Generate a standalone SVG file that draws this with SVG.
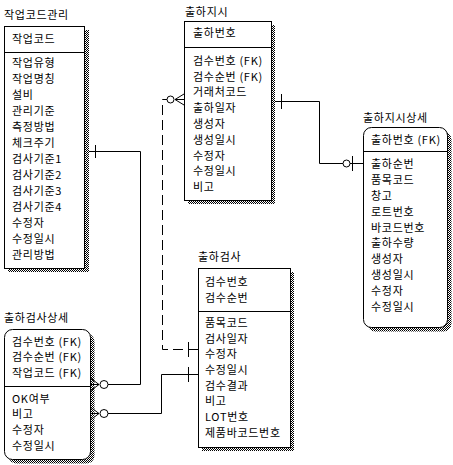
<svg xmlns="http://www.w3.org/2000/svg" width="453" height="465" viewBox="0 0 453 465">
<defs>
<pattern id="dith" width="2" height="2" patternUnits="userSpaceOnUse">
<rect width="2" height="2" fill="#fff"/>
<rect x="0" y="0" width="1" height="1" fill="#000"/>
<rect x="1" y="1" width="1" height="1" fill="#000"/>
</pattern>
</defs>
<style>
text{font-family:"Noto Sans CJK KR","Liberation Sans",sans-serif;font-size:11px;letter-spacing:0.7px;fill:#000}
.box{fill:#fff;stroke:#000;stroke-width:1}
.sh{fill:url(#dith);stroke:none}
.ln{fill:none;stroke:#000;stroke-width:1}
.dash{fill:none;stroke:#000;stroke-width:1;stroke-dasharray:10,5}
.circ{fill:#fff;stroke:#000;stroke-width:1}
</style>
<rect width="453" height="465" fill="#fff"/>

<g id="n_work">
<text x="4" y="19">작업코드관리</text>
<rect class="sh" x="85" y="30" width="4" height="242"/>
<rect class="sh" x="8" y="268" width="81" height="4"/>
<rect class="box" x="4.5" y="26.5" width="80" height="242"/>
<path class="ln" d="M4.5 52.5H84.5"/>
<text x="12" y="43">작업코드</text>
<text x="12" y="67">작업유형</text>
<text x="12" y="83">작업명칭</text>
<text x="12" y="99">설비</text>
<text x="12" y="115">관리기준</text>
<text x="12" y="131">측정방법</text>
<text x="12" y="147">체크주기</text>
<text x="12" y="163">검사기준1</text>
<text x="12" y="179">검사기준2</text>
<text x="12" y="195">검사기준3</text>
<text x="12" y="211">검사기준4</text>
<text x="12" y="227">수정자</text>
<text x="12" y="243">수정일시</text>
<text x="12" y="259">관리방법</text>
</g>

<g id="n_ship">
<text x="185" y="16">출하지시</text>
<rect class="sh" x="271" y="25" width="4" height="179"/>
<rect class="sh" x="188" y="200" width="87" height="4"/>
<rect class="box" x="184.5" y="21.5" width="87" height="179"/>
<path class="ln" d="M184.5 47.5H271.5"/>
<text x="193" y="37">출하번호</text>
<text x="193" y="65">검수번호 (FK)</text>
<text x="193" y="81">검수순번 (FK)</text>
<text x="193" y="96">거래처코드</text>
<text x="193" y="112">출하일자</text>
<text x="193" y="128">생성자</text>
<text x="193" y="144">생성일시</text>
<text x="193" y="160">수정자</text>
<text x="193" y="175">수정일시</text>
<text x="193" y="191">비고</text>
</g>

<g id="n_shipdetail">
<text x="363" y="122">출하지시상세</text>
<rect class="sh" x="367.5" y="131.5" width="84" height="200" rx="8"/>
<rect class="box" x="363.5" y="127.5" width="84" height="200" rx="8"/>
<path class="ln" d="M363.5 151.5H447.5"/>
<text x="371" y="144">출하번호 (FK)</text>
<text x="371" y="168">출하순번</text>
<text x="371" y="184">품목코드</text>
<text x="371" y="200">창고</text>
<text x="371" y="216">로트번호</text>
<text x="371" y="232">바코드번호</text>
<text x="371" y="247">출하수량</text>
<text x="371" y="263">생성자</text>
<text x="371" y="279">생성일시</text>
<text x="371" y="295">수정자</text>
<text x="371" y="311">수정일시</text>
</g>

<g id="n_inspdetail">
<text x="4" y="322">출하검사상세</text>
<rect class="sh" x="8.5" y="333.5" width="86" height="130" rx="8"/>
<rect class="box" x="4.5" y="329.5" width="86" height="130" rx="8"/>
<path class="ln" d="M4.5 386.5H90.5"/>
<text x="12" y="346">검수번호 (FK)</text>
<text x="12" y="361">검수순번 (FK)</text>
<text x="12" y="377">작업코드 (FK)</text>
<text x="12" y="403">OK여부</text>
<text x="12" y="418">비고</text>
<text x="12" y="434">수정자</text>
<text x="12" y="450">수정일시</text>
</g>

<g id="n_insp">
<text x="198" y="261">출하검사</text>
<rect class="sh" x="290" y="272" width="4" height="179"/>
<rect class="sh" x="202" y="447" width="92" height="4"/>
<rect class="box" x="198.5" y="268.5" width="92" height="179"/>
<path class="ln" d="M198.5 311.5H290.5"/>
<text x="205" y="286">검수번호</text>
<text x="205" y="302">검수순번</text>
<text x="205" y="327">품목코드</text>
<text x="205" y="343">검사일자</text>
<text x="205" y="358">수정자</text>
<text x="205" y="374">수정일시</text>
<text x="205" y="390">검수결과</text>
<text x="205" y="405">비고</text>
<text x="205" y="421">LOT번호</text>
<text x="205" y="437">제품바코드번호</text>
</g>

<g id="connectors">
<path class="ln" d="M89 151.5H140.5V384.5H108"/>
<path class="ln" d="M95.5 145V158"/>
<path class="ln" d="M99 384.5L91 378.5M99 384.5L91 390.5M99 384.5H91"/>
<circle class="circ" cx="104" cy="384.5" r="4"/>
<path class="ln" d="M198 374.5H161.5V413.5H108"/>
<path class="ln" d="M188.5 367V382"/>
<path class="ln" d="M99 413.5L91 407.5M99 413.5L91 419.5M99 413.5H91"/>
<circle class="circ" cx="104" cy="413.5" r="4"/>
<path class="dash" d="M198 349.5H162.5V99.5H167"/>
<path class="ln" d="M188.5 342V357"/>
<path class="ln" d="M175 99.5L184 94M175 99.5L184 105M175 99.5H184"/>
<circle class="circ" cx="170.5" cy="99.5" r="3.5"/>
<path class="ln" d="M275 101.5H319.5V163.5H343"/>
<path class="ln" d="M281.5 94V109"/>
<circle class="circ" cx="346.5" cy="163.5" r="3.5"/>
<path class="ln" d="M350 163.5H363M352.5 156V171"/>
</g>
</svg>
